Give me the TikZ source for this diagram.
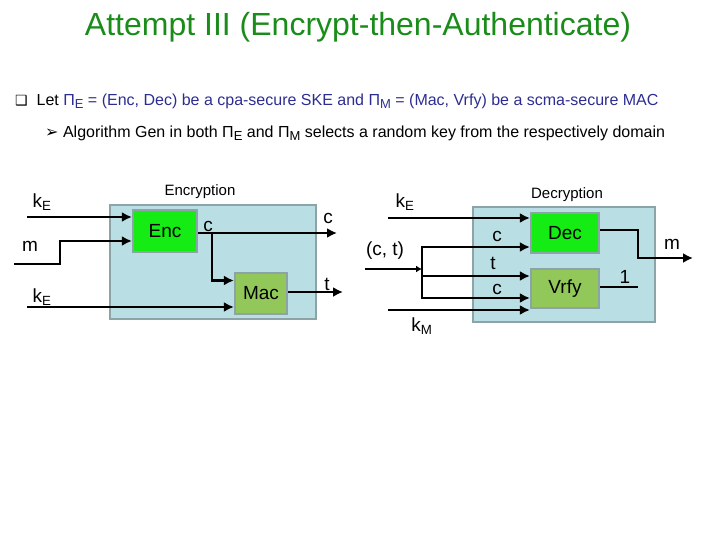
\documentclass[tikz,border=0pt]{standalone}
\usepackage{fontspec}
\setmainfont{Liberation Sans}
\newfontfamily\dingfont{DejaVu Sans}
\usepackage{xcolor}
\usetikzlibrary{arrows.meta,positioning}
\definecolor{ttlGreen}{RGB}{26,140,26}
\definecolor{txtBlue}{RGB}{45,45,145}
\definecolor{panelFill}{RGB}{185,222,228}
\definecolor{panelEdge}{RGB}{140,163,167}
\definecolor{encGreen}{RGB}{20,236,20}
\definecolor{macGreen}{RGB}{146,200,90}
\newcommand{\lsub}[1]{\raisebox{-0.4ex}{\fontsize{13}{13}\selectfont #1}}

\begin{document}
\begin{tikzpicture}[x=1pt,y=-1pt,
  panel/.style={draw=panelEdge, fill=panelFill, line width=2.75pt, inner sep=0pt},
  algbox/.style={draw=panelEdge, line width=2.25pt, inner sep=0pt, font=\fontsize{19}{19}\selectfont},
  wire/.style={line width=2.75pt},
  arr/.style={wire, -{Latex[length=10pt,width=10pt]}},
  lab/.style={font=\fontsize{19}{19}\selectfont, inner sep=0pt},
  paneltitle/.style={font=\fontsize{15}{15}\selectfont, inner sep=0pt}]
\useasboundingbox (0,0) rectangle (720,540);

\node[text=ttlGreen, font=\fontsize{32}{32}\selectfont] (title) at (358,27) {Attempt III (Encrypt-then-Authenticate)};
\node[anchor=west, font=\fontsize{16}{16}\selectfont, inner sep=0pt] (pointA) at (15,101)
  {{\dingfont\fontsize{14}{14}\selectfont ❑}\ \ Let \textcolor{txtBlue}{Π\lsub{E} = (Enc, Dec) be a cpa-secure SKE and Π\lsub{M} = (Mac, Vrfy) be a scma-secure MAC}};
\node[anchor=west, font=\fontsize{16}{16}\selectfont, inner sep=0pt] (pointB) at (45,133)
  {{\dingfont\fontsize{16}{16}\selectfont ➢}\ Algorithm Gen in both Π\lsub{E} and Π\lsub{M} selects a random key from the respectively domain};

% encryption side
\node[panel, minimum width=206pt, minimum height=114pt] (encPanel) at (213,262) {};
\node[paneltitle] (encTitle) at (200,192) {Encryption};
\node[algbox, fill=encGreen, minimum width=64pt, minimum height=42pt] (enc) at (165,231) {Enc};
\node[algbox, fill=macGreen, minimum width=52pt, minimum height=41pt] (mac) at (261,293.5) {Mac};

\coordinate (kEa) at (27,217);
\draw[arr] (kEa) -- (kEa -| enc.west);
\coordinate (mIn) at (14,264);
\coordinate (mStep) at (60,241);
\draw[arr] (mIn) -| (mStep) -- (mStep -| enc.west);
\coordinate (kEb) at (27,307);
\draw[arr] (kEb) -- (kEb -| mac.west);
\coordinate (cOut) at (337,233);
\draw[arr] (enc.east |- cOut) -- (cOut);
\coordinate (cBr) at (212,233);
\coordinate (macC) at ([yshift=13pt]mac.west);
\draw[arr] (cBr) |- (macC);
\coordinate (tOut) at (343,292);
\draw[arr] (mac.east |- tOut) -- (tOut);

\node[lab] (kEaLab) at (42,202) {k\textsubscript{E}};
\node[lab] (mLab) at (30,246) {m};
\node[lab] (kEbLab) at (42,297) {k\textsubscript{E}};
\node[lab] (cEncLab) at (208,226) {c};
\node[lab] (cOutLab) at (328,218) {c};
\node[lab] (tOutLab) at (327,284) {t};

% decryption side
\node[panel, minimum width=182pt, minimum height=115pt] (decPanel) at (564,264.5) {};
\node[paneltitle] (decTitle) at (567,195) {Decryption};
\node[algbox, fill=encGreen, minimum width=68pt, minimum height=40pt] (dec) at (565,233) {Dec};
\node[algbox, fill=macGreen, minimum width=68pt, minimum height=39pt] (vrfy) at (565,288.5) {Vrfy};

\coordinate (kEc) at (388,218);
\draw[arr] (kEc) -- (kEc -| dec.west);
\coordinate (ctIn) at (365,269);
\coordinate (ctBr) at (422,269);
\draw[wire, -{Latex[length=6pt,width=7pt]}] (ctIn) -- (ctBr);
\coordinate (brTop) at (422,247);
\coordinate (brMid) at (422,276);
\coordinate (brBot) at (422,298);
\draw[wire, line cap=rect] (brTop) -- (brBot);
\draw[arr] (brTop) -- (brTop -| dec.west);
\draw[arr] (brMid) -- (brMid -| vrfy.west);
\draw[arr] (brBot) -- (brBot -| vrfy.west);
\coordinate (kMa) at (388,310);
\draw[arr] (kMa) -- (kMa -| vrfy.west);
\coordinate (decBend) at (638,230);
\coordinate (mOut) at (693,258);
\draw[arr] (dec.east |- decBend) -- (decBend) |- (mOut);
\coordinate (oneEnd) at (638,287);
\draw[wire] (vrfy.east |- oneEnd) -- (oneEnd);

\node[lab] (kEcLab) at (405,202) {k\textsubscript{E}};
\node[lab] (ctLab) at (385,251) {(c, t)};
\node[lab] (cDecLab) at (497,236) {c};
\node[lab] (tVrLab) at (493,263) {t};
\node[lab] (cVrLab) at (497,289) {c};
\node[lab] (kMLab) at (422,326) {k\textsubscript{M}};
\node[lab] (mOutLab) at (672,244) {m};
\node[lab] (oneLab) at (625,277) {1};
\end{tikzpicture}
\end{document}
